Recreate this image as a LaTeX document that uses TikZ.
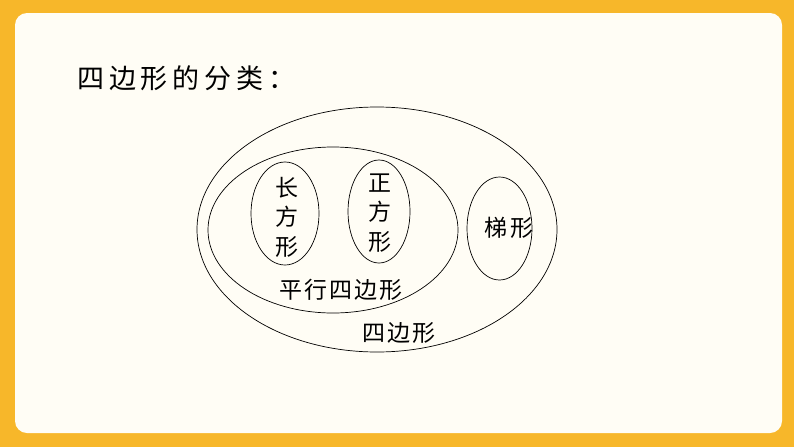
\documentclass[tikz,border=0pt]{standalone}
\usepackage{fontspec}
\usetikzlibrary{shapes.geometric}
\newfontfamily\cjk{Noto Sans CJK SC}
\definecolor{frameorange}{HTML}{F7B72A}
\definecolor{papercream}{HTML}{FFFDF5}
\def\setfont{\cjk\fontsize{23}{29.5}\selectfont\addfontfeature{LetterSpace=9}}

\tikzset{
  set/.style = {ellipse, draw=black, line width=0.7pt, inner sep=0pt},
  setname/.style = {font=\setfont, inner sep=0pt, align=center}
}

\begin{document}
\begin{tikzpicture}[x=1pt, y=-1pt]
  \useasboundingbox (0,0) rectangle (794,447);
  % Frame and paper
  \fill[frameorange] (0,0) rectangle (794,447);
  \fill[papercream, rounded corners=12pt] (15,13) rectangle (782,433);
  \node[anchor=west, inner sep=0pt,
    font=\cjk\fontsize{27}{27}\selectfont\addfontfeature{LetterSpace=18}]
    (title) at (77,78) {四边形的分类：};
  % Sets as ellipses: name/centre x/centre y/half width/half height
  \foreach \name/\cx/\cy/\rx/\ry in {
      quad/377/229.5/180/122.5,
      para/333/230/125/83,
      rect/285/213.5/34/51.5,
      square/379/211.5/31/51.5,
      trap/499.5/228.5/32.5/51.5
    } {
      \node[set, minimum width=\rx*2pt, minimum height=\ry*2pt]
        (\name) at (\cx,\cy) {};
    }
  % Names of the sets
  \node[setname] (quadname)   at (399,333) {四边形};
  \node[setname] (paraname)   at (341,290) {平行四边形};
  \node[setname] (trapname)   at (509,228) {梯形};
  \node[setname] (rectname)   at (287,217) {长\\方\\形};
  \node[setname] (squarename) at (380,213) {正\\方\\形};
\end{tikzpicture}
\end{document}
